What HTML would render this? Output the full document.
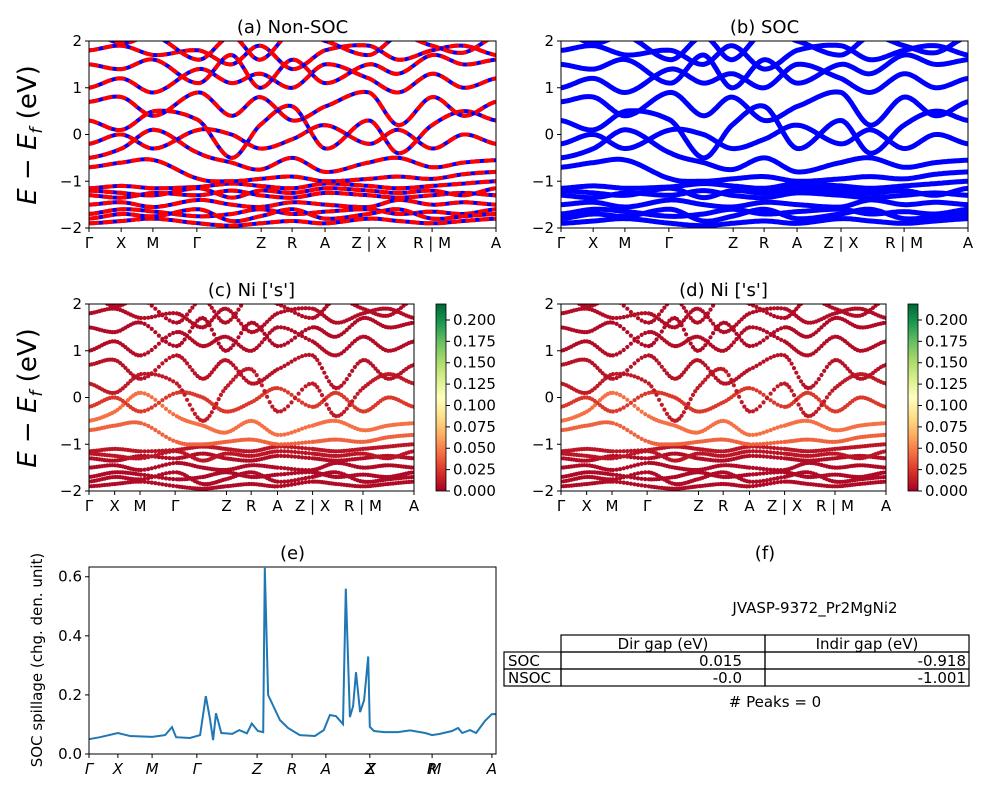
<!DOCTYPE html>
<html><head><meta charset="utf-8"><style>
html,body{margin:0;padding:0;background:#fff;}
svg{display:block;font-family:"DejaVu Sans","Liberation Sans",sans-serif;}
</style></head><body>
<svg id="fig" width="1000" height="800" viewBox="0 0 1000 800" xmlns="http://www.w3.org/2000/svg">
<defs>
<linearGradient id="cbgrad" x1="0" y1="1" x2="0" y2="0">
<stop offset="0" stop-color="#a50026"/><stop offset="0.1" stop-color="#d73027"/><stop offset="0.2" stop-color="#f46d43"/><stop offset="0.3" stop-color="#fdae61"/><stop offset="0.4" stop-color="#fee08b"/><stop offset="0.5" stop-color="#ffffbf"/><stop offset="0.6" stop-color="#d9ef8b"/><stop offset="0.7" stop-color="#a6d96a"/><stop offset="0.8" stop-color="#66bd63"/><stop offset="0.9" stop-color="#1a9850"/><stop offset="1" stop-color="#006837"/>
</linearGradient>
</defs>
</svg>
<script>
// ---- data ----
const kFrac=[0,0.08,0.16,0.27,0.35,0.42,0.5,0.58,0.688,0.76,0.843,0.92,1];
const band1=[-1.9,-1.85,-1.8,-1.9,-1.95,-1.9,-1.85,-1.9,-1.8,-1.85,-1.9,-1.85,-1.8];
const band2=[-1.7,-1.6,-1.65,-1.75,-1.7,-1.6,-1.7,-1.65,-1.6,-1.7,-1.65,-1.7,-1.6];
const band3=[-1.5,-1.45,-1.55,-1.4,-1.5,-1.55,-1.45,-1.5,-1.55,-1.4,-1.5,-1.45,-1.5];
const band4=[-1.3,-1.35,-1.25,-1.3,-1.2,-1.3,-1.35,-1.25,-1.3,-1.35,-1.3,-1.25,-1.3];
const band5=[-1.15,-1.1,-1.15,-1.12,-1.05,-1.1,-1.15,-1.05,-1.1,-1.15,-1.1,-1.05,-1.0];
const band6=[-0.7,-0.6,-0.55,-0.95,-1.0,-0.95,-0.9,-1.0,-0.95,-0.9,-0.95,-0.85,-0.8];
const band7=[-0.5,-0.3,0.1,-0.4,-0.6,-0.75,-0.5,-0.8,-0.6,-0.5,-0.7,-0.6,-0.55];
const band8=[-0.2,0.0,-0.3,0.1,0.0,-0.3,-0.1,0.2,-0.2,0.1,-0.3,0.0,-0.2];
const band9=[0.3,0.1,0.5,0.3,-0.5,0.2,0.6,-0.3,0.3,-0.4,0.2,0.5,0.3];
const band10=[0.7,0.8,0.4,0.9,0.4,0.8,0.3,0.6,0.9,0.2,0.8,0.4,0.7];
const band11=[1.0,1.2,0.9,1.4,1.1,1.3,1.0,1.5,1.2,0.9,1.3,1.0,1.2];
const band12=[1.5,1.4,1.6,1.1,1.7,1.0,1.6,1.1,1.5,1.3,1.7,1.5,1.6];
const band13=[1.8,1.9,1.7,1.8,1.5,1.9,1.4,1.8,1.9,1.6,1.8,1.9,1.7];
const band14=[2.2,1.95,2.1,1.6,2.1,1.6,2.2,2.0,1.7,2.1,1.9,1.75,2.1];
const band15=[-1.8,-1.7,-1.75,-1.6,-1.85,-1.75,-1.6,-1.8,-1.7,-1.6,-1.8,-1.75,-1.7];
const band16=[-1.2,-1.25,-1.3,-1.15,-1.35,-1.2,-1.25,-1.15,-1.2,-1.25,-1.2,-1.3,-1.15];
const bands=[band1,band2,band3,band4,band5,band6,band7,band8,band9,band10,band11,band12,band13,band14,band15,band16];
const bandWeight=[0.005,0.004,0.005,0.006,0.01,0.04,0.045,0.025,0.012,0.008,0.006,0.005,0.006,0.006,0.005,0.01];
const kTickFrac=[0,0.079,0.157,0.265,0.423,0.499,0.580,0.688,0.843,1];
const kTickLabels=["Γ","X","M","Γ","Z","R","A","Z | X","R | M","A"];
const eTicks=[-2,-1,0,1,2];
const cbTicks=[0,0.025,0.05,0.075,0.1,0.125,0.15,0.175,0.2];
const cbMax=0.2187;
const spillK=[0,0.027,0.071,0.101,0.155,0.187,0.204,0.214,0.248,0.273,0.287,0.297,0.305,0.312,0.325,0.352,0.369,0.388,0.400,0.415,0.428,0.432,0.440,0.469,0.489,0.518,0.555,0.577,0.592,0.607,0.624,0.631,0.641,0.649,0.656,0.666,0.676,0.686,0.690,0.700,0.725,0.759,0.789,0.826,0.843,0.862,0.892,0.907,0.917,0.936,0.951,0.973,0.990,1];
const spillV=[0.05,0.057,0.071,0.061,0.058,0.064,0.091,0.057,0.054,0.064,0.196,0.12,0.047,0.138,0.071,0.068,0.081,0.07,0.103,0.078,0.074,0.63,0.2,0.115,0.088,0.064,0.061,0.081,0.132,0.128,0.101,0.56,0.125,0.162,0.277,0.142,0.182,0.33,0.092,0.078,0.074,0.074,0.08,0.071,0.064,0.068,0.078,0.088,0.071,0.081,0.071,0.112,0.135,0.135];
const spillTickV=[0,0.2,0.4,0.6];
const spillTickK=[0,0.071,0.155,0.265,0.413,0.499,0.582,0.69,0.843,0.99];
const spillTickLabels=["Γ","X","M","Γ","Z","R","A","Z","R","A"];
// ---- helpers ----
const svg=document.getElementById('fig');
const NS='http://www.w3.org/2000/svg';
function mk(tag,attrs,parent){const e=document.createElementNS(NS,tag);for(const k in attrs)e.setAttribute(k,attrs[k]);(parent||svg).appendChild(e);return e;}
function txt(s,x,y,size,anchor,parent,extra){const t=mk('text',Object.assign({x:x,y:y,'font-size':size,'text-anchor':anchor||'middle',fill:'#000'},extra||{}),parent);t.textContent=s;return t;}
function dense(ys,steps){const out=[];const n=ys.length;for(let i=0;i<n-1;i++){const p0=ys[Math.max(0,i-1)],p1=ys[i],p2=ys[i+1],p3=ys[Math.min(n-1,i+2)];const k0=kFrac[i],k1=kFrac[i+1];for(let s=0;s<steps;s++){const t=s/steps;const y=0.5*((2*p1)+(-p0+p2)*t+(2*p0-5*p1+4*p2-p3)*t*t+(-p0+3*p1-3*p2+p3)*t*t*t);out.push([k0+(k1-k0)*t,y]);}}out.push([1,ys[n-1]]);return out;}
function cmap(v){const stops=["#a50026","#d73027","#f46d43","#fdae61","#fee08b","#ffffbf","#d9ef8b","#a6d96a","#66bd63","#1a9850","#006837"];let f=Math.max(0,Math.min(1,v/cbMax))*10;const i=Math.min(9,Math.floor(f));const t=f-i;const a=stops[i],b=stops[i+1];const c=j=>Math.round(parseInt(a.substr(j,2),16)*(1-t)+parseInt(b.substr(j,2),16)*t);return `rgb(${c(1)},${c(3)},${c(5)})`;}
let clipN=0;
function bandAxes(name,x0,x1,y0,y1,title,mode){
  const g=mk('g',{});
  const sx=k=>x0+k*(x1-x0), sy=e=>y0+(2-e)/4*(y1-y0);
  const id='clip'+(clipN++);const cp=mk('clipPath',{id:id},g);mk('rect',{x:x0,y:y0,width:x1-x0,height:y1-y0},cp);
  const pg=mk('g',{'clip-path':`url(#${id})`},g);
  bands.forEach((b,bi)=>{
    const pts=dense(b,20);
    if(mode==='dots'){
      const dg=mk('g',{},pg);
      for(let i=0;i<pts.length;i+=2){mk('circle',{cx:sx(pts[i][0]).toFixed(1),cy:sy(pts[i][1]).toFixed(1),r:2.1,fill:cmap(bandWeight[bi])},dg);}
    } else {
      const d='M'+pts.map(p=>sx(p[0]).toFixed(1)+','+sy(p[1]).toFixed(1)).join('L');
      if(mode==='soc'){const p=mk('path',{d:d,fill:'none',stroke:'#0000ff','stroke-width':5},pg);}
      else{const p=mk('path',{d:d,fill:'none',stroke:'#0000ff','stroke-width':4},pg);
        mk('path',{d:d,fill:'none',stroke:'#ff0000','stroke-width':4,'stroke-dasharray':'10,4'},pg);}
    }
  });
  mk('rect',{x:x0,y:y0,width:x1-x0,height:y1-y0,fill:'none',stroke:'#000','stroke-width':1},g);
  eTicks.forEach(e=>{const y=sy(e);mk('line',{x1:x0-4,x2:x0,y1:y,y2:y,stroke:'#000'},g);txt(String(e).replace('-','−'),x0-7,y+5,15,'end',g);});
  kTickFrac.forEach((k,i)=>{const x=sx(k);mk('line',{x1:x,x2:x,y1:y1,y2:y1+4,stroke:'#000'},g);txt(kTickLabels[i],x,y1+20,15,'middle',g);});
  const t=txt(title,(x0+x1)/2,y0-8,18,'middle',g);
}
function colorbar(name,x0,y0,y1){
  const g=mk('g',{});
  mk('rect',{x:x0,y:y0,width:10,height:y1-y0,fill:'url(#cbgrad)',stroke:'#000','stroke-width':0.8},g);
  cbTicks.forEach(v=>{const y=y1-v/cbMax*(y1-y0);mk('line',{x1:x0+10,x2:x0+14,y1:y,y2:y,stroke:'#000'},g);txt(v.toFixed(3),x0+17,y+5,15,'start',g);});
}
function ylabel(y){const t=txt('',36,y,26,'middle',null,{transform:`rotate(-90 36 ${y})`});t.innerHTML='<tspan font-style="italic">E</tspan> − <tspan font-style="italic">E</tspan><tspan font-style="italic" font-size="17" dy="6">f</tspan><tspan dy="-6"> (eV)</tspan>';}
bandAxes('panel-a-nonsoc',89,496,41,228,'(a) Non-SOC','nsoc');
bandAxes('panel-b-soc',561,968,41,228,'(b) SOC','soc');
bandAxes('panel-c-ni-s',89,414,304,491,'(c)  Ni [\'s\']','dots');
bandAxes('panel-d-ni-s',561,886,304,491,'(d) Ni [\'s\']','dots');
colorbar('colorbar-c',436,304,491);
colorbar('colorbar-d',908,304,491);
ylabel(135);ylabel(398);
// spillage panel
(function(){
  const x0=89,x1=496,y0=567,y1=754,vmax=0.633;
  const g=mk('g',{});
  const sx=k=>x0+k*(x1-x0), sy=v=>y1-v/vmax*(y1-y0);
  const d='M'+spillK.map((k,i)=>sx(k).toFixed(1)+','+sy(spillV[i]).toFixed(1)).join('L');
  const p=mk('path',{d:d,fill:'none',stroke:'#1f77b4','stroke-width':2},g);
  mk('rect',{x:x0,y:y0,width:x1-x0,height:y1-y0,fill:'none',stroke:'#000'},g);
  spillTickV.forEach(v=>{const y=sy(v);mk('line',{x1:x0-4,x2:x0,y1:y,y2:y,stroke:'#000'},g);txt(v.toFixed(1),x0-7,y+5,15,'end',g);});
  spillTickK.forEach((k,i)=>{const x=sx(k);mk('line',{x1:x,x2:x,y1:y1,y2:y1+4,stroke:'#000'},g);txt(spillTickLabels[i],x,y1+20,15,'middle',g,{'font-style':'italic'});});
  txt('X',sx(0.693),y1+20,15,'middle',g,{'font-style':'italic'});txt('M',sx(0.85),y1+20,15,'middle',g,{'font-style':'italic'});
  const t=txt('(e)',(x0+x1)/2,y0-8,18,'middle',g);
  const yl=txt('SOC spillage (chg. den. unit)',42,660,15,'middle',g,{transform:'rotate(-90 42 660)'});
})();
// table panel
(function(){
  const g=mk('g',{});
  txt('(f)',765,559,18,'middle',g);
  const t=txt('JVASP-9372_Pr2MgNi2',815,613,15,'middle',g);
  const st={fill:'none',stroke:'#000','stroke-width':1.2};
  mk('rect',Object.assign({x:561,y:635,width:204,height:17},st),g);mk('rect',Object.assign({x:765,y:635,width:204,height:17},st),g);
  [652,669].forEach(y=>{mk('rect',Object.assign({x:504,y:y,width:57,height:17},st),g);mk('rect',Object.assign({x:561,y:y,width:204,height:17},st),g);mk('rect',Object.assign({x:765,y:y,width:204,height:17},st),g);});
  txt('Dir gap (eV)',663,649,15,'middle',g);txt('Indir gap (eV)',867,649,15,'middle',g);
  txt('SOC',508,666,15,'start',g);txt('0.015',742,666,15,'end',g);txt('-0.918',966,666,15,'end',g);
  txt('NSOC',508,683,15,'start',g);txt('-0.0',742,683,15,'end',g);txt('-1.001',966,683,15,'end',g);
  const pk=txt('# Peaks = 0',775,707,15,'middle',g);
})();
</script>
</body></html>
